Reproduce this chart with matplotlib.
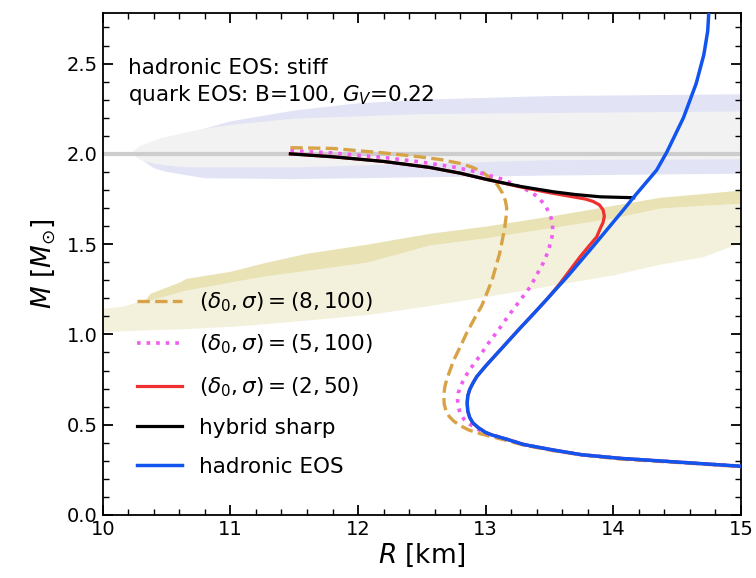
import numpy as np
import matplotlib
matplotlib.use("Agg")
import matplotlib.pyplot as plt
from matplotlib.ticker import MultipleLocator

# hadronic EOS (stiff): M-R sequence, low mass -> maximum mass
had_R = [15.0, 14.57, 14.05, 13.75, 13.53, 13.3, 13.14, 13.05, 13.0, 12.94, 12.9, 12.875,
         12.86, 12.855, 12.86, 12.875, 12.9, 12.93, 13.0, 13.09, 13.18, 13.27, 13.38,
         13.48, 13.65, 13.84, 14.08, 14.16, 14.34, 14.42, 14.55, 14.65, 14.71, 14.74, 14.75]
had_M = [0.27, 0.29, 0.314, 0.334, 0.36, 0.39, 0.425, 0.443, 0.457, 0.485, 0.51, 0.54,
         0.575, 0.62, 0.66, 0.695, 0.73, 0.766, 0.825, 0.895, 0.965, 1.035, 1.118,
         1.195, 1.328, 1.486, 1.69, 1.76, 1.91, 2.01, 2.2, 2.39, 2.55, 2.68, 2.80]

# hybrid stars with a sharp phase transition
sharp_R = [11.47, 11.8, 12.2, 12.56, 12.8, 13.01, 13.27, 13.53, 13.7, 13.9, 14.16]
sharp_M = [2.0, 1.984, 1.958, 1.925, 1.893, 1.858, 1.82, 1.79, 1.775, 1.762, 1.757]

# smooth crossover (delta0, sigma) = (2, 50)
c2_R = [11.47, 11.8, 12.2, 12.56, 12.8, 13.01, 13.27, 13.5, 13.66, 13.78, 13.84, 13.89,
        13.92, 13.93, 13.92, 13.9, 13.87, 13.81, 13.74, 13.66, 13.58, 13.48, 13.38, 13.27,
        13.18, 13.09, 13.0, 12.93, 12.9, 12.875, 12.86, 12.855, 12.86, 12.875, 12.9,
        12.94, 13.0, 13.05, 13.14, 13.3, 13.53, 13.75, 14.05, 14.57, 15.0]
c2_M = [2.0, 1.984, 1.958, 1.925, 1.893, 1.858, 1.817, 1.785, 1.765, 1.75, 1.737, 1.718,
        1.69, 1.655, 1.62, 1.59, 1.54, 1.49, 1.43, 1.355, 1.28, 1.195, 1.118, 1.035,
        0.965, 0.895, 0.825, 0.766, 0.73, 0.695, 0.66, 0.62, 0.575, 0.54, 0.51,
        0.485, 0.457, 0.443, 0.425, 0.39, 0.36, 0.334, 0.314, 0.29, 0.27]

# (delta0, sigma) = (5, 100)
c5_R = [11.47, 11.8, 12.2, 12.48, 12.75, 12.93, 13.12, 13.27, 13.36, 13.42, 13.47, 13.5,
        13.52, 13.525, 13.52, 13.49, 13.45, 13.4, 13.35, 13.25, 13.17, 13.1, 13.02, 12.95,
        12.88, 12.835, 12.805, 12.785, 12.78, 12.785, 12.8, 12.83, 12.87, 12.93, 13.01,
        13.14, 13.3, 13.53, 13.75, 14.05, 14.57, 15.0]
c5_M = [2.017, 2.005, 1.98, 1.956, 1.927, 1.9, 1.862, 1.818, 1.787, 1.754, 1.71, 1.67,
        1.63, 1.59, 1.54, 1.46, 1.394, 1.33, 1.264, 1.17, 1.095, 1.024, 0.95, 0.877,
        0.81, 0.76, 0.715, 0.675, 0.637, 0.6, 0.565, 0.53, 0.505, 0.478, 0.452,
        0.425, 0.39, 0.358, 0.334, 0.314, 0.29, 0.27]

# (delta0, sigma) = (8, 100)
c8_R = [11.47, 11.8, 12.2, 12.48, 12.65, 12.8, 12.9, 12.97, 13.04, 13.09, 13.13, 13.155,
        13.165, 13.16, 13.15, 13.13, 13.11, 13.08, 13.05, 13.01, 12.97, 12.91, 12.85,
        12.8, 12.75, 12.72, 12.695, 12.68, 12.672, 12.675, 12.69, 12.715, 12.75, 12.8,
        12.87, 12.95, 13.04, 13.14, 13.3, 13.53, 13.75, 14.05, 14.57, 15.0]
c8_M = [2.034, 2.03, 2.005, 1.984, 1.968, 1.947, 1.925, 1.9, 1.865, 1.83, 1.785, 1.74,
        1.7, 1.65, 1.596, 1.52, 1.45, 1.375, 1.3, 1.23, 1.16, 1.085, 1.006,
        0.93, 0.858, 0.8, 0.75, 0.71, 0.66, 0.615, 0.575, 0.545, 0.52, 0.495,
        0.47, 0.452, 0.435, 0.417, 0.387, 0.356, 0.333, 0.31, 0.288, 0.268]

# mass-radius constraint band (rising with R): lower edge, inner edge, upper edge
band_R = [10.0, 10.15, 10.33, 10.37, 10.6, 10.65, 11.0, 11.28, 11.6, 12.07, 12.56,
          13.0, 13.5, 14.0, 14.37, 14.7, 15.0]
band_lo = [1.015, 1.02, 1.025, 1.027, 1.03, 1.032, 1.045, 1.06, 1.08, 1.11, 1.16,
           1.21, 1.27, 1.33, 1.39, 1.43, 1.51]
band_mid = [1.145, 1.155, 1.185, 1.19, 1.236, 1.245, 1.29, 1.325, 1.355, 1.40, 1.495,
            1.535, 1.59, 1.645, 1.70, 1.715, 1.726]
band_hi = [1.145, 1.155, 1.19, 1.228, 1.29, 1.31, 1.35, 1.40, 1.45, 1.50, 1.56,
           1.60, 1.655, 1.715, 1.76, 1.78, 1.80]

# 2 M_sun pulsar contours (outer and inner)
outer_R_top = [10.3, 10.45, 10.6, 10.8, 11.0, 11.5, 12.0, 12.5, 13.5, 15.0]
outer_M_top = [1.97, 2.04, 2.08, 2.14, 2.18, 2.24, 2.28, 2.30, 2.32, 2.33]
outer_R_bot = [10.3, 10.4, 10.5, 10.8, 11.5, 12.5, 13.5, 15.0]
outer_M_bot = [1.97, 1.92, 1.90, 1.865, 1.86, 1.87, 1.88, 1.89]

inner_R_top = [10.22, 10.28, 10.35, 10.45, 10.6, 10.8, 11.0, 11.5, 12.5, 15.0]
inner_M_top = [2.0, 2.04, 2.06, 2.085, 2.11, 2.14, 2.16, 2.195, 2.22, 2.235]
inner_R_bot = [10.22, 10.3, 10.4, 10.55, 10.7, 11.5, 12.5, 13.5, 15.0]
inner_M_bot = [2.0, 1.965, 1.945, 1.932, 1.925, 1.925, 1.945, 1.965, 1.97]

fig = plt.figure(figsize=(7.56, 5.78), dpi=100)
ax = fig.add_axes([0.136, 0.109, 0.844, 0.8685])

# constraint regions
ax.fill_between(band_R, band_lo, band_mid, color="#f3f1dc", lw=0, zorder=1)
ax.fill_between(band_R, band_mid, band_hi, color="#e9e2b4", lw=0, zorder=1)
ax.fill(outer_R_top + outer_R_bot[::-1], outer_M_top + outer_M_bot[::-1],
        color="#e2e4f6", lw=0, zorder=1)
ax.fill(inner_R_top + inner_R_bot[::-1], inner_M_top + inner_M_bot[::-1],
        color="#f2f2f2", lw=0, zorder=1.5)
ax.axhline(2.0, color="#cdcdcd", lw=3.0, zorder=2)

# M-R curves
ax.plot(c8_R, c8_M, "--", color="#d8a347", lw=2.4, label=r"$(\delta_0, \sigma) = (8, 100)$", zorder=3)
ax.plot(c5_R, c5_M, ":", color="#f05cf0", lw=2.6, label=r"$(\delta_0, \sigma) = (5, 100)$", zorder=3)
ax.plot(c2_R, c2_M, "-", color="#ee3030", lw=2.3, label=r"$(\delta_0, \sigma) = (2, 50)$", zorder=3)
ax.plot(sharp_R, sharp_M, "-", color="black", lw=2.3, label="hybrid sharp", zorder=4)
ax.plot(had_R, had_M, "-", color="#1155ee", lw=2.5, label="hadronic EOS", zorder=5)

ax.text(0.039, 0.89, "hadronic EOS: stiff", transform=ax.transAxes,
        fontsize=15.5, va="center", ha="left")
ax.text(0.039, 0.837, r"quark EOS: B=100, $G_V$=0.22", transform=ax.transAxes,
        fontsize=15.5, va="center", ha="left")

ax.set_xlim(10, 15)
ax.set_ylim(0, 2.78)
ax.xaxis.set_major_locator(MultipleLocator(1))
ax.xaxis.set_minor_locator(MultipleLocator(0.2))
ax.yaxis.set_major_locator(MultipleLocator(0.5))
ax.yaxis.set_minor_locator(MultipleLocator(0.1))
ax.tick_params(which="both", direction="in", top=True, right=True, labelsize=14)
ax.tick_params(which="major", length=7, width=1.3)
ax.tick_params(which="minor", length=4, width=1.0)
for s in ax.spines.values():
    s.set_linewidth(1.3)

ax.set_xlabel(r"$R$ [km]", fontsize=19, labelpad=2)
ax.set_ylabel(r"$M\ [M_{\odot}]$", fontsize=19, labelpad=6)

ax.legend(loc="upper left", bbox_to_anchor=(0.04, 0.465), frameon=False,
          fontsize=15.5, handlelength=2.1, labelspacing=0.88, handletextpad=0.8,
          borderaxespad=0.0)

fig.savefig("out.png", dpi=100)
